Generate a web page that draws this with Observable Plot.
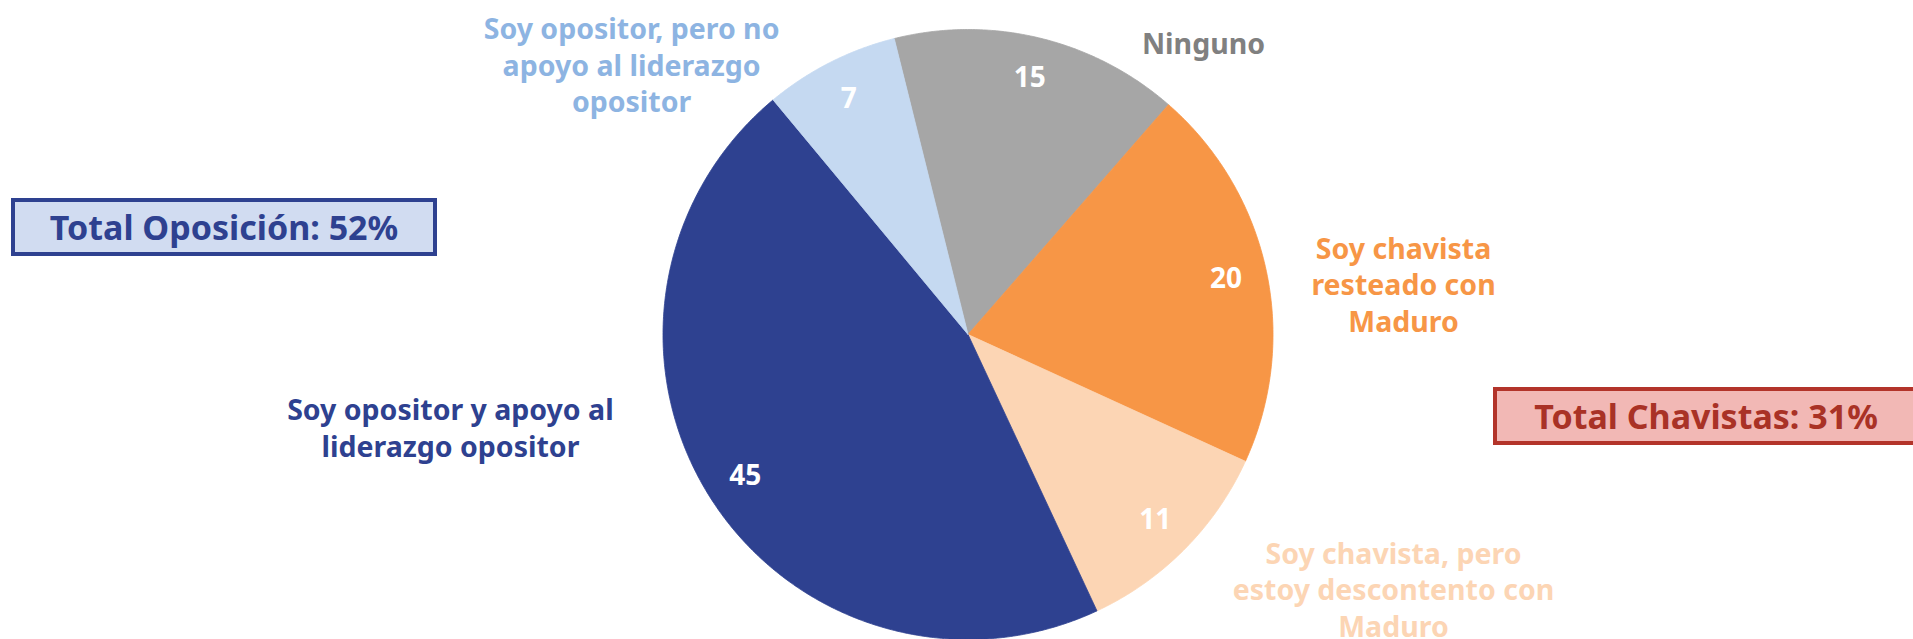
<!DOCTYPE html>
<html>
<head>
<meta charset="utf-8">
<script src="https://cdn.jsdelivr.net/npm/d3@7"></script>
<script src="https://cdn.jsdelivr.net/npm/@observablehq/plot@0.6"></script>
<style>
  html, body { margin: 0; padding: 0; background: #fff; overflow: hidden; }
  #wrap { position: relative; width: 1913px; height: 639px; font-family: "Noto Sans", sans-serif; }
  .box { position: absolute; box-sizing: border-box; border: 4px solid; font-weight: bold; font-size: 34px; display: flex; align-items: center; justify-content: center; white-space: nowrap; }
</style>
</head>
<body>
<div id="wrap"></div>
<script>
// Data (clockwise from top)
const categories = [
  "Ninguno",
  "Soy chavista\nresteado con\nMaduro",
  "Soy chavista, pero\nestoy descontento con\nMaduro",
  "Soy opositor y apoyo al\nliderazgo opositor",
  "Soy opositor, pero no\napoyo al liderazgo\nopositor"
];
const values = [15, 20, 11, 45, 7];
const sliceColors = ["#A6A6A6", "#F79646", "#FCD5B4", "#2E4190", "#C5D9F1"];
const labelColors = ["#808080", "#F79646", "#FCD5B4", "#2E4190", "#8DB4E2"];
const totals = ["Total Oposición: 52%", "Total Chavistas: 31%"];

// Layout (in pie-radius units, relative to centre)
const labelPos = [[0.772, 0.957], [1.428, 0.167], [1.395, -0.833], [-1.697, -0.303], [-1.103, 0.887]];

const startDeg = -14;
const pie = d3.pie().sort(null).startAngle(startDeg * Math.PI / 180).endAngle((startDeg + 360) * Math.PI / 180);
const arcs = pie(values);

const pts = [];
arcs.forEach((a, i) => {
  pts.push({k: i, x: 0, y: 0, c: sliceColors[i]});
  const n = Math.max(2, Math.ceil((a.endAngle - a.startAngle) / (Math.PI / 360)));
  for (let j = 0; j <= n; j++) {
    const t = a.startAngle + (a.endAngle - a.startAngle) * j / n;
    pts.push({k: i, x: Math.sin(t), y: Math.cos(t), c: sliceColors[i]});
  }
  pts.push({k: i, x: 0, y: 0, c: sliceColors[i]});
});

const valueLabels = arcs.map((a, i) => {
  const m = (a.startAngle + a.endAngle) / 2;
  return {x: 0.865 * Math.sin(m), y: 0.865 * Math.cos(m), t: String(values[i])};
});
const catLabels = categories.map((c, i) => ({x: labelPos[i][0], y: labelPos[i][1], t: c, c: labelColors[i]}));

const chart = Plot.plot({
  width: 1913,
  height: 639,
  margin: 0,
  x: {domain: [-1, 1], range: [662.5, 1272.5], axis: null},
  y: {domain: [-1, 1], range: [639, 29], axis: null},
  color: {type: "identity"},
  style: {fontFamily: "'Noto Sans', sans-serif", background: "transparent"},
  marks: [
    Plot.line(pts, {x: "x", y: "y", z: "k", fill: "c", stroke: "c", strokeWidth: 0.8, curve: "linear"}),
    Plot.text(valueLabels, {x: "x", y: "y", text: "t", fill: "white", fontSize: 28, fontWeight: "bold"}),
    Plot.text(catLabels, {
      x: "x", y: "y", text: "t", fill: "c", fontSize: 28.5, fontWeight: "bold",
      lineHeight: 1.28, lineAnchor: "middle", textAnchor: "middle"
    })
  ]
});
const wrap = document.getElementById("wrap");
wrap.appendChild(chart);

const b1 = document.createElement("div");
b1.className = "box";
b1.textContent = totals[0];
Object.assign(b1.style, {left: "11px", top: "198px", width: "426px", height: "58px", background: "#D1DCF1", borderColor: "#2E4190", color: "#2E4190"});
wrap.appendChild(b1);

const b2 = document.createElement("div");
b2.className = "box";
b2.textContent = totals[1];
Object.assign(b2.style, {left: "1493px", top: "387px", width: "426px", height: "58px", background: "#F2B8B5", borderColor: "#B3342A", color: "#A93226"});
wrap.appendChild(b2);
</script>
</body>
</html>
